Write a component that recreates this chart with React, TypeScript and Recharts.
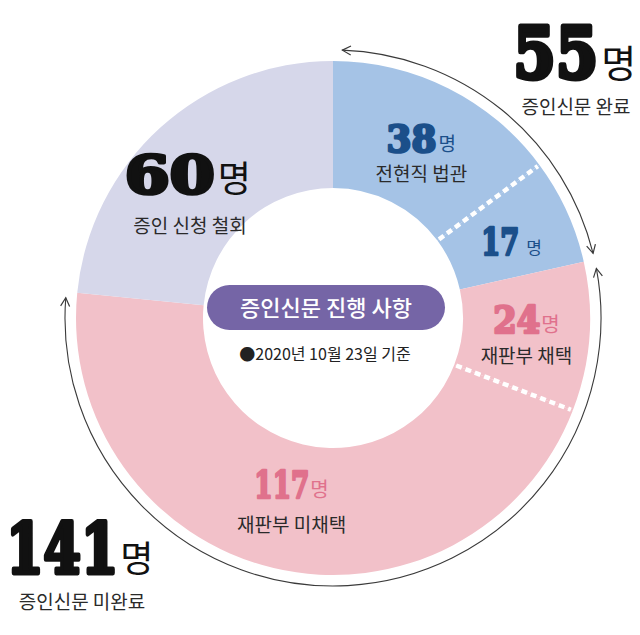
import { PieChart, Pie, Cell } from 'recharts';

// 증인신문 진행 사항 (2020년 10월 23일 기준)
const COUNTS = [38, 17, 24, 117, 60];
const LABELS = ['전현직 법관', '', '재판부 채택', '재판부 미채택', '증인 신청 철회'];
const GROUP_OF = [0, 0, 1, 1, 2];
const GROUP_NAMES = ['증인신문 완료', '증인신문 미완료', '증인 신청 철회'];

const GROUP_COLORS = ['#a5c3e6', '#f2c1c9', '#d6d7ea'];
const NUM_COLORS = ['#1b4f8a', '#e0718c', '#111111'];

const W = 640;
const H = 635;
const CX = 328;
const CY = 313;
const NUM_FONT = '"DejaVu Serif", serif';
const KR_FONT = '"Noto Sans CJK KR", "Noto Sans", sans-serif';

const segments = COUNTS.map((v, i) => ({ name: LABELS[i] || `${v}명`, value: v, group: GROUP_OF[i] }));
const groups = GROUP_NAMES.map((name, g) => ({
  name,
  value: COUNTS.filter((_, i) => GROUP_OF[i] === g).reduce((a, b) => a + b, 0),
}));

// label layout tweaks for each slice (nudges from the mid-angle point)
const LABEL_LAYOUT = [
  { dx: 2, dy: 5.5, size: 37, width: 50, unit: 19, gap: 2, desc: 29 },
  { dx: 4, dy: 17, size: 37, width: 38, unit: 17, gap: 7, desc: 0 },
  { dx: 2, dy: 1, size: 37, width: 47, unit: 20, gap: 1, desc: 30 },
  { dx: 3, dy: -7, size: 37, width: 55, unit: 20, gap: 1, desc: 34 },
  { dx: -16, dy: 17, size: 52, width: 90, unit: 36, gap: 3, desc: 40 },
];

const RAD = Math.PI / 180;
const polar = (cx: number, cy: number, r: number, deg: number) => ({
  x: cx + r * Math.cos(-deg * RAD),
  y: cy + r * Math.sin(-deg * RAD),
});

function NumberWithUnit({ cx, y, value, size, width, unit, gap, color }: any) {
  const unitW = unit * 0.93;
  const left = cx - (width + gap + unitW) / 2;
  const digits = String(value).length;
  const sx = width / (digits * 0.696 * size);
  return (
    <g>
      <text
        transform={`translate(${left},${y}) scale(${sx},1)`}
        fontFamily={NUM_FONT}
        fontWeight={900}
        fontSize={size}
        fill={color}
        stroke={color}
        strokeWidth={size * 0.07}
        strokeLinejoin="round"
      >
        {value}
      </text>
      <text x={left + width + gap} y={y - 1} fontFamily={KR_FONT} fontSize={unit} fill={color}>
        명
      </text>
    </g>
  );
}

const renderSliceLabel = (props: any) => {
  const { cx, cy, midAngle, innerRadius, outerRadius, endAngle, index } = props;
  const lay = LABEL_LAYOUT[index];
  const p = polar(cx, cy, 192, midAngle);
  const x = p.x + lay.dx;
  const base = p.y + lay.dy;
  const color = NUM_COLORS[GROUP_OF[index]];
  const divider = GROUP_OF[index + 1] === GROUP_OF[index];
  const a = polar(cx, cy, innerRadius + 2, endAngle);
  const b = polar(cx, cy, outerRadius - 2, endAngle);
  return (
    <g key={`lbl-${index}`}>
      {divider && (
        <line x1={a.x} y1={a.y} x2={b.x} y2={b.y} stroke="#ffffff" strokeWidth={4.5} strokeDasharray="6 4" />
      )}
      <NumberWithUnit cx={x} y={base} value={COUNTS[index]} color={color} {...lay} />
      {LABELS[index] && (
        <text x={x + (index === 4 ? 2 : 0)} y={base + lay.desc} textAnchor="middle" fontFamily={KR_FONT} fontSize={19} fill="#2a2a2a">
          {LABELS[index]}
        </text>
      )}
    </g>
  );
};

const renderGroupArc = (props: any) => {
  const { cx, cy, startAngle, endAngle, index } = props;
  if (index > 1) return <g key={`arc-${index}`} />;
  const r = 268;
  const s = startAngle - 2;
  const e = endAngle + 1.3;
  const p1 = polar(cx, cy, r, s);
  const p2 = polar(cx, cy, r, e);
  const large = s - e > 180 ? 1 : 0;
  return (
    <g key={`arc-${index}`}>
      <defs>
        <marker
          id={`arrow-${index}`}
          viewBox="0 0 12 12"
          refX={10.5}
          refY={6}
          markerWidth={12}
          markerHeight={12}
          markerUnits="userSpaceOnUse"
          orient="auto-start-reverse"
        >
          <path d="M2,1.5 L10.5,6 L2,10.5" fill="none" stroke="#3a3a3a" strokeWidth={1.2} />
        </marker>
      </defs>
      <path
        d={`M${p1.x},${p1.y} A${r},${r} 0 ${large} 1 ${p2.x},${p2.y}`}
        fill="none"
        stroke="#3a3a3a"
        strokeWidth={1.1}
        markerStart={`url(#arrow-${index})`}
        markerEnd={`url(#arrow-${index})`}
      />
    </g>
  );
};

export default function App() {
  return (
    <div style={{ position: 'absolute', left: 0, top: 0, width: W, height: H, background: '#fff' }}>
      <PieChart width={W} height={H}>
        <Pie
          data={segments}
          dataKey="value"
          nameKey="name"
          cx={CX}
          cy={CY}
          innerRadius={130}
          outerRadius={257}
          startAngle={90}
          endAngle={-270}
          stroke="none"
          label={renderSliceLabel}
          labelLine={false}
          isAnimationActive={false}
        >
          {segments.map((s, i) => (
            <Cell key={`cell-${i}`} fill={GROUP_COLORS[s.group]} stroke="none" />
          ))}
        </Pie>
        <Pie
          data={groups}
          dataKey="value"
          nameKey="name"
          cx={CX}
          cy={CY}
          innerRadius={268}
          outerRadius={268}
          startAngle={90}
          endAngle={-270}
          fill="none"
          stroke="none"
          label={renderGroupArc}
          labelLine={false}
          isAnimationActive={false}
        />
      </PieChart>

      <svg width={W} height={H} style={{ position: 'absolute', left: 0, top: 0, pointerEvents: 'none' }}>
        {/* group totals */}
        <NumberWithUnit cx={575} y={78} value={groups[0].value} size={72} width={85} unit={38} gap={3} color="#111" />
        <text x={576} y={114} textAnchor="middle" fontFamily={KR_FONT} fontSize={19} fill="#2a2a2a">
          {groups[0].name}
        </text>
        <NumberWithUnit cx={80} y={573} value={groups[1].value} size={70} width={112} unit={36} gap={2} color="#111" />
        <text x={82} y={609} textAnchor="middle" fontFamily={KR_FONT} fontSize={19} fill="#2a2a2a">
          {groups[1].name}
        </text>

        {/* center title */}
        <rect x={207} y={285} width={238} height={45} rx={22.5} fill="#7565a6" />
        <text x={326} y={316} textAnchor="middle" fontFamily={KR_FONT} fontWeight={500} fontSize={22} fill="#ffffff">
          증인신문 진행 사항
        </text>
        <text x={325} y={360} textAnchor="middle" fontFamily={KR_FONT} fontSize={16} fill="#222">
          ●2020년 10월 23일 기준
        </text>
      </svg>
    </div>
  );
}
